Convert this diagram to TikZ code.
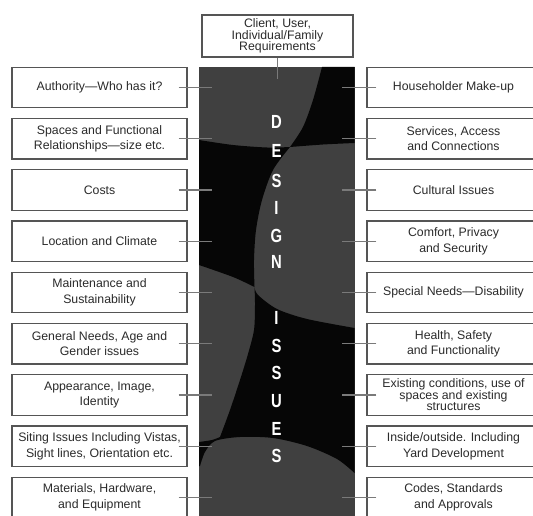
\documentclass[tikz,border=0pt]{standalone}
\usepackage{fontspec}
\setmainfont{Liberation Sans}
\usetikzlibrary{calc}
\definecolor{colgray}{HTML}{404040}
\definecolor{blk}{HTML}{060606}
\definecolor{boxline}{HTML}{555555}
\definecolor{txt}{HTML}{2A2A2A}
\definecolor{conncol}{HTML}{7A7A7A}
\newcommand\mytightlines{\lineskiplimit=-20pt\relax}
\begin{document}
\begin{tikzpicture}[x=1pt,y=-1pt,
  box/.style={draw=boxline, line width=1.4pt, minimum width=175pt, minimum height=40.5pt,
    inner sep=0pt, align=center, text=txt, font=\fontsize{12.3}{15.5}\selectfont},
  rbox/.style={box, minimum width=173pt},
  tight/.style={font=\fontsize{12.3}{11.5}\selectfont\mytightlines},
  conn/.style={draw=conncol, line width=1.3pt},
  letter/.style={text=white, inner sep=0pt, font=\bfseries\fontsize{19}{19}\selectfont}]

\useasboundingbox (0,0) rectangle (533,516);

% central column
\node[fill=colgray, inner sep=0pt, minimum width=155.5pt, minimum height=453pt, anchor=north west] (col) at (199,67) {};

% black regions
\fill[blk] (322,67) -- (354.5,67) -- (354.5,143)
  -- plot[smooth] coordinates {(354.5,143) (323,144.5) (290,147)}
  -- plot[smooth] coordinates {(290,147) (303,127) (313,100) (322,67)} -- cycle;
\fill[blk] (199,140)
  -- plot[smooth] coordinates {(199,140) (233,145) (267,147.5) (290,147)}
  -- plot[smooth] coordinates {(290,147) (273,170) (262,200) (256,230) (254,260) (254.5,287)}
  -- plot[smooth] coordinates {(254.5,287) (233,277) (199,265)} -- cycle;
\fill[blk] (254.5,287)
  -- plot[smooth] coordinates {(254.5,287) (258,295) (277,309) (307,319) (354.5,328)}
  -- (354.5,473)
  -- plot[smooth] coordinates {(354.5,473) (337,459) (307,446) (273,438) (240,437) (215,441) (205,452) (200,466)}
  -- (199,466) -- (199,442)
  -- plot[smooth] coordinates {(199,442) (212,440) (220,437)}
  -- plot[smooth] coordinates {(220,437) (230,410) (240,380) (248,354) (254,330) (255,305) (254.5,287)} -- cycle;

% letters
\foreach \ch/\yy [count=\k] in {D/122,E/151,S/180.5,I/208,G/236,N/262,I/318,S/346,S/373,U/401,E/429,S/456}
  \node[letter] (ch\k) at (276.5,\yy) {\scalebox{0.78}[1]{\ch}};

% top box
\node[box, tight, minimum width=151pt, minimum height=42pt] (top) at (277.5,36) {Client, User,\\Individual/Family\\Requirements};
\draw[conn] (top.south) -- ++(0,21);

% left boxes
\foreach \i/\t in {0/{Authority—Who has it?},
  1/{Spaces and Functional\\Relationships—size etc.},
  2/{Costs},
  3/{Location and Climate},
  4/{Maintenance and\\Sustainability},
  5/{General Needs, Age and\\Gender issues},
  6/{Appearance, Image,\\Identity},
  7/{Siting Issues Including Vistas,\\Sight lines, Orientation etc.},
  8/{Materials, Hardware,\\and Equipment}}
{
  \node[box] (L\i) at (99.5,87.5+51.25*\i) {\t};
  \draw[conn] ($(L\i.east)+(-9,0)$) -- ($(L\i.east -| col.west)+(13,0)$);
}

% right boxes
\foreach \i/\t in {0/{Householder Make-up},
  1/{Services, Access\\and Connections},
  2/{Cultural Issues},
  3/{Comfort, Privacy\\and Security},
  4/{Special Needs—Disability},
  5/{Health, Safety\\and Functionality},
  7/{Inside/outside. Including\\Yard Development},
  8/{Codes, Standards\\and Approvals}}
{
  \node[rbox] (R\i) at (453.5,87.5+51.25*\i) {\t};
  \draw[conn] ($(R\i.west)+(10,0)$) -- ($(R\i.west -| col.east)+(-13,0)$);
}
\node[rbox, tight] (R6) at (453.5,87.5+51.25*6) {Existing conditions, use of\\spaces and existing\\structures};
\draw[conn] ($(R6.west)+(10,0)$) -- ($(R6.west -| col.east)+(-13,0)$);

\end{tikzpicture}
\end{document}
